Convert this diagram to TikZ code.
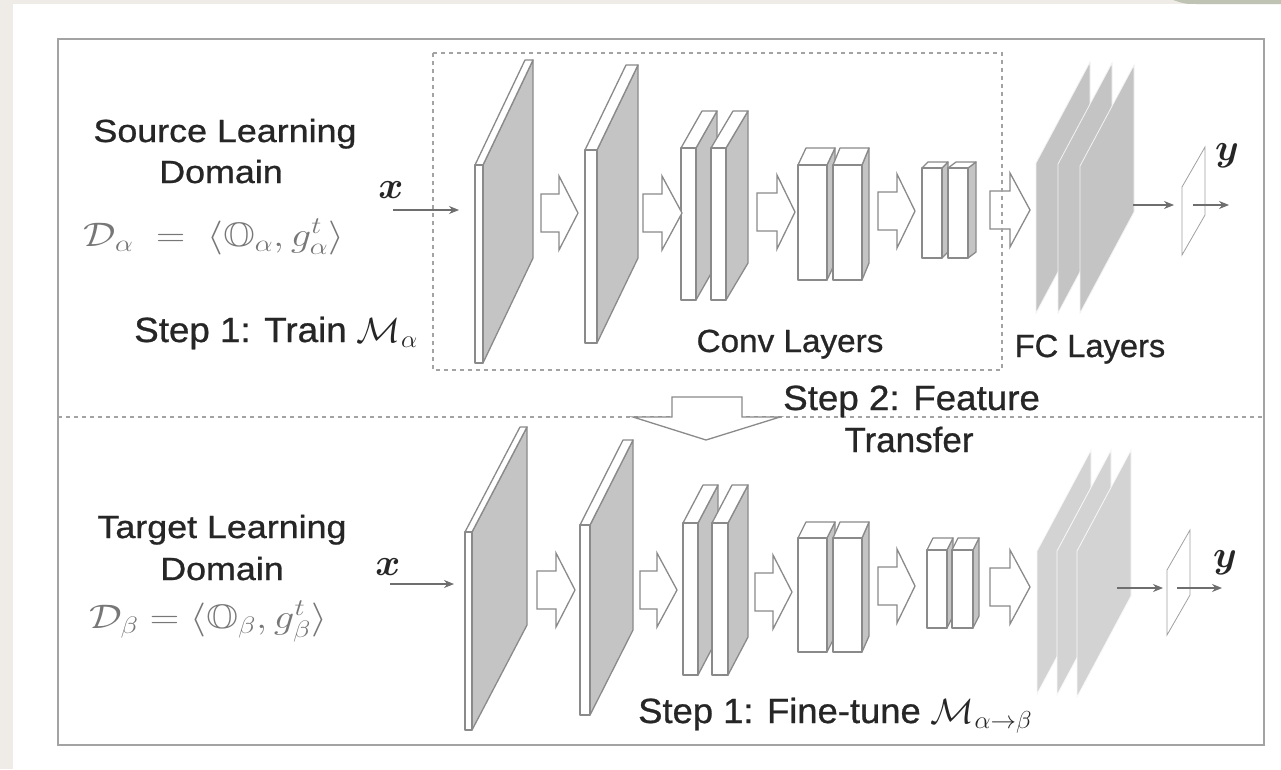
\RequirePackage{fix-cm}
\documentclass[tikz,border=0pt]{standalone}
\usepackage{amsmath,amssymb}
\usepackage{fontspec}
\setmainfont{Liberation Sans}
\newfontfamily\labfont{Liberation Sans}[FakeBold=0.8]
\usepackage{graphicx}
\usetikzlibrary{arrows.meta}

\definecolor{bgpage}{HTML}{EFECE7}
\definecolor{tabgreen}{HTML}{BFC3B3}
\definecolor{frame}{HTML}{A3A3A3}
\definecolor{edge}{HTML}{8A8A8A}
\definecolor{shade}{HTML}{C4C4C4}
\definecolor{fcup}{HTML}{C4C4C4}
\definecolor{fclow}{HTML}{D3D3D3}
\definecolor{ink}{HTML}{262626}
\definecolor{mathgray}{HTML}{777777}

% horizontal stretch of a piece of text
\newcommand{\hs}[2]{\scalebox{#1}[1]{#2}}

% a slab: front face #1..#1+#4 wide, from #2 (top) to #3 (bottom), depth vector (#5,#6)
\newcommand{\slab}[6]{%
  \filldraw[sideface] ({#1+#4},#2) -- ({#1+#4+#5},{#2+#6}) -- ({#1+#4+#5},{#3+#6}) -- ({#1+#4},#3) -- cycle;
  \filldraw[frontface] (#1,#2) -- ({#1+#4},#2) -- ({#1+#4+#5},{#2+#6}) -- ({#1+#5},{#2+#6}) -- cycle;
  \filldraw[frontface] (#1,#2) rectangle ({#1+#4},#3);
}
% hollow block arrow: start x, head base x, tip x, centre y
\newcommand{\blockarrow}[4]{%
  \filldraw[blockarr] (#1,{#4-19}) -- (#2,{#4-19}) -- (#2,{#4-37}) -- (#3,#4)
    -- (#2,{#4+37}) -- (#2,{#4+19}) -- (#1,{#4+19}) -- cycle;
}
% fully connected plane: left x, top of left edge, height, style
\newcommand{\fcplane}[4]{%
  \filldraw[#4] (#1,#2) -- ({#1+54},{#2-101}) -- ({#1+54},{#2-101+#3}) -- (#1,{#2+#3}) -- cycle;
}
% output plane: left x, top of left edge, height
\newcommand{\outplane}[3]{%
  \draw[outedge] (#1,#2) -- ({#1+23},{#2-40}) -- ({#1+23},{#2-40+#3}) -- (#1,{#2+#3}) -- cycle;
}

\begin{document}
\begin{tikzpicture}[x=1pt,y=-1pt,
  lab/.style={font=\labfont\fontsize{32}{36}\selectfont, text=ink, inner sep=0pt},
  steplab/.style={font=\labfont\fontsize{35}{38}\selectfont, text=ink, inner sep=0pt},
  layerlab/.style={font=\labfont\fontsize{32}{36}\selectfont, text=ink, inner sep=0pt},
  formula/.style={font=\fontsize{34}{36}\selectfont, text=mathgray, inner sep=0pt},
  varlab/.style={font=\fontsize{38}{40}\selectfont, text=ink, inner sep=0pt},
  sideface/.style={draw=edge, fill=shade, line width=1.3pt, line join=round},
  frontface/.style={draw=edge, fill=white, line width=1.3pt, line join=round},
  blockarr/.style={draw=edge, fill=white, line width=1.3pt, line join=miter},
  fcu/.style={fill=fcup, draw=white!80!fcup, line width=0.8pt},
  fcl/.style={fill=fclow, draw=white!85!fclow, line width=0.8pt},
  outedge/.style={draw=edge!80, fill=white, line width=0.8pt},
  thinarr/.style={draw=edge!80!black, line width=1.1pt, -{Stealth[length=10pt,width=8pt]}},
  dash box/.style={draw=frame, line width=1.5pt, dash pattern=on 4pt off 4pt},
]
\useasboundingbox (0,0) rectangle (1281,769);

% page background
\fill[bgpage] (0,0) rectangle (1281,769);
\fill[white] (13,4) rectangle (1281,769);
\fill[tabgreen] (1173,0) .. controls (1185,4) .. (1198,4) -- (1281,4) -- (1281,0) -- cycle;

% outer frame and the split between the two domains
\draw[frame, line width=2.4pt] (58,39) rectangle (1264,745);
\draw[dash box] (58,417) -- (1264,417);

% ---------------- source network ----------------
\slab{475}{165}{363}{8}{50}{-105}
\slab{585}{150}{343}{12}{41}{-85}
\slab{681}{148}{300}{15}{21}{-37}
\slab{711}{148}{300}{15}{22}{-37}
\slab{798}{165}{280}{29}{8}{-17}
\slab{833}{165}{280}{29}{7}{-17}
\slab{922}{168}{258}{20}{6}{-6}
\slab{948}{168}{258}{20}{8}{-6}

\blockarrow{541}{559}{578}{213}
\blockarrow{643}{662}{682}{213}
\blockarrow{757}{777}{795}{212}
\blockarrow{878}{897}{915}{211}
\blockarrow{990}{1010}{1030}{210}

\fcplane{1036}{163}{150}{fcu}
\fcplane{1058}{164}{149}{fcu}
\fcplane{1080}{166}{147}{fcu}
\outplane{1182}{187}{68}

\draw[dash box] (433,53) rectangle (1002,370);

\node[varlab] (xa) at (391,190) {$\boldsymbol{x}$};
\coordinate (xa0) at (393,210);
\coordinate (xa1) at (459,210);
\draw[thinarr] (xa0) -- (xa1);
\coordinate (fca) at (1133,205);
\coordinate (outa) at (1174,205);
\coordinate (outa0) at (1193,205);
\coordinate (outa1) at (1229,205);
\draw[thinarr] (fca) -- (outa);
\draw[thinarr] (outa0) -- (outa1);
\node[varlab] (ya) at (1227,156) {$\boldsymbol{y}$};

\node[lab, anchor=base] (srcA) at (225,142) {\hs{1.12}{Source Learning}};
\node[lab, anchor=base] (srcB) at (221,183) {\hs{1.12}{Domain}};
\node[formula, anchor=base] (dalpha) at (214,246) {\hs{1.19}{$\mathcal{D}_\alpha \;=\; \langle \mathbb{O}_\alpha, g^t_\alpha\rangle$}};
\node[steplab, anchor=base] (trainA) at (276,342) {\hs{1.05}{Step 1: Train $\mathcal{M}_\alpha$}};
\node[layerlab, anchor=base] (conv) at (790,352) {\hs{1.04}{Conv Layers}};
\node[layerlab, anchor=base] (fc) at (1090,357) {\hs{1.02}{FC Layers}};

% ---------------- feature transfer ----------------
\filldraw[blockarr] (672,397) -- (742,397) -- (742,417) -- (780,417) -- (706,440)
  -- (633,417) -- (672,417) -- cycle;
\node[steplab, anchor=base west] (stepB) at (783,410) {\hs{1.05}{Step 2: Feature}};
\node[steplab, anchor=base] (transfer) at (909,452) {Transfer};

% ---------------- target network ----------------
\slab{465}{532}{730}{7}{55}{-105}
\slab{580}{525}{715}{10}{43}{-85}
\slab{683}{523}{675}{15}{20}{-38}
\slab{712}{523}{675}{16}{20}{-38}
\slab{798}{538}{652}{29}{8}{-16}
\slab{833}{538}{652}{29}{7}{-16}
\slab{927}{550}{628}{20}{6}{-12}
\slab{952}{550}{628}{21}{6}{-12}

\blockarrow{537}{556}{575}{590}
\blockarrow{640}{657}{677}{590}
\blockarrow{755}{773}{792}{592}
\blockarrow{878}{897}{915}{586}
\blockarrow{990}{1010}{1030}{587}

\fcplane{1037}{551}{143}{fcl}
\fcplane{1057}{551}{144}{fcl}
\fcplane{1077}{551}{146}{fcl}
\outplane{1167}{570}{65}

\node[varlab] (xb) at (388,567) {$\boldsymbol{x}$};
\coordinate (xb0) at (390,584);
\coordinate (xb1) at (454,584);
\draw[thinarr] (xb0) -- (xb1);
\coordinate (fcb) at (1117,588);
\coordinate (outb) at (1163,588);
\coordinate (outb0) at (1177,588);
\coordinate (outb1) at (1222,588);
\draw[thinarr] (fcb) -- (outb);
\draw[thinarr] (outb0) -- (outb1);
\node[varlab] (yb) at (1225,563) {$\boldsymbol{y}$};

\node[lab, anchor=base] (tgtA) at (222,538) {\hs{1.12}{Target Learning}};
\node[lab, anchor=base] (tgtB) at (222,580) {\hs{1.12}{Domain}};
\node[formula, anchor=base] (dbeta) at (208,628) {\hs{1.2}{$\mathcal{D}_\beta = \langle \mathbb{O}_\beta, g^t_\beta\rangle$}};
\node[steplab, anchor=base west] (tuneB) at (638,723) {\hs{1.04}{Step 1: Fine-tune $\mathcal{M}_{\alpha\to\beta}$}};
\end{tikzpicture}
\end{document}
